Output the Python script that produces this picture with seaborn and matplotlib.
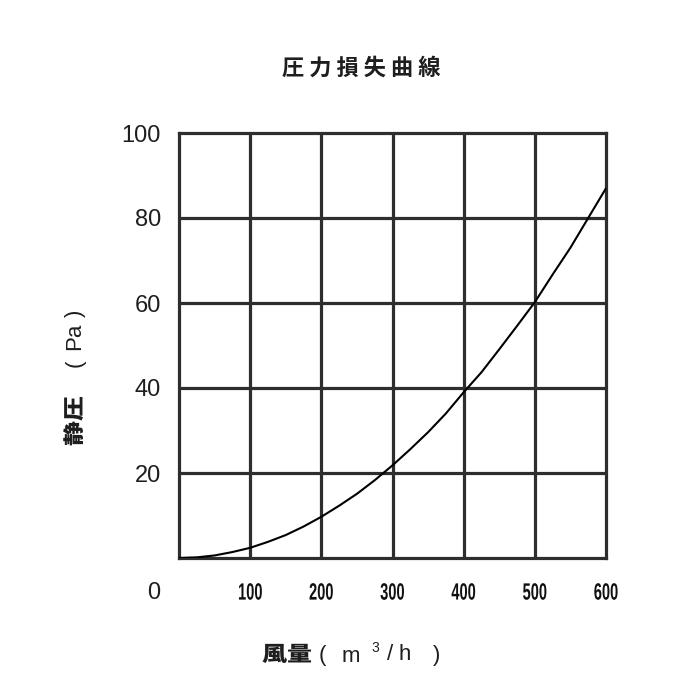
import matplotlib
matplotlib.use("Agg")
import matplotlib.pyplot as plt
from matplotlib.patheffects import AbstractPathEffect
from matplotlib.transforms import Affine2D
import seaborn as sns
import pandas as pd

# values
flow = [0, 25, 50, 75, 100, 125, 150, 175, 200, 225, 250, 275, 300,
        325, 350, 375, 400, 425, 450, 475, 500, 525, 550, 575, 600]
pressure = [0, 0.15, 0.6, 1.4, 2.4, 3.8, 5.4, 7.4, 9.7, 12.3, 15.1, 18.3, 21.8,
            25.6, 29.6, 34.0, 39.0, 43.7, 49.1, 54.6, 60.2, 66.7, 73.0, 80.0, 87.0]
x_ticks = [100, 200, 300, 400, 500, 600]
y_ticks = [20, 40, 60, 80, 100]

title = "圧 力 損 失 曲 線"
x_label_main = "風量"
y_label_main = "静圧"


class StretchX(AbstractPathEffect):
    """scale the glyphs horizontally around their own centre"""
    def __init__(self, sx):
        super().__init__()
        self.sx = sx

    def draw_path(self, renderer, gc, tpath, affine, rgbFace=None):
        ext = tpath.get_extents()
        cx = (ext.x0 + ext.x1) / 2
        st = Affine2D().translate(-cx, 0).scale(self.sx, 1).translate(cx, 0)
        renderer.draw_path(gc, tpath, st + affine, rgbFace)


def px(x, y):
    # pixel position (from top-left) -> figure fraction
    return x / 700, 1 - y / 700


sns.set_theme(style="white")
plt.rcParams["font.family"] = ["Noto Sans CJK JP", "DejaVu Sans"]

df = pd.DataFrame({"flow": flow, "pressure": pressure})

fig = plt.figure(figsize=(7, 7), dpi=100)
ax = fig.add_axes([179 / 700, 142 / 700, 427 / 700, 425 / 700])

grid_col = "#2e2e2e"
for v in x_ticks[:-1]:
    ax.axvline(v, color=grid_col, lw=2.3, zorder=1)
for v in y_ticks[:-1]:
    ax.axhline(v, color=grid_col, lw=2.3, zorder=1)

sns.lineplot(data=df, x="flow", y="pressure", ax=ax, color="black", lw=1.5, zorder=3)

ax.set_xlim(0, 600)
ax.set_ylim(0, 100)
for s in ax.spines.values():
    s.set_visible(True)
    s.set_color(grid_col)
    s.set_linewidth(2.3)

txt_col = "#1e1e1e"
ax.set_xticks(x_ticks)
ax.set_xticklabels([str(v) for v in x_ticks], family="Liberation Sans", fontsize=17,
                   color="#111111", fontweight="bold")
for lab in ax.get_xticklabels():
    lab.set_path_effects([StretchX(0.62)])
ax.set_yticks(y_ticks)
ax.set_yticklabels([str(v) for v in y_ticks], family="Liberation Sans", fontsize=17, color=txt_col)
ax.tick_params(axis="x", length=0, pad=17)
ax.tick_params(axis="y", length=0, pad=13)
ax.set_xlabel("")
ax.set_ylabel("")

# origin label sits below-left of the corner
fig.text(*px(154, 593), "0", family="Liberation Sans", fontsize=17, color=txt_col,
         ha="center", va="center")

fig.text(*px(361, 68), title, fontsize=16, fontweight="bold", color=txt_col,
         ha="center", va="center")

# x axis label, pieces spaced out as in the reference
fig.text(*px(287, 655), x_label_main, fontsize=15, fontweight="black", color=txt_col,
         ha="center", va="center", path_effects=[StretchX(1.2)])
for s, x, y, fs in [("(", 322, 655, 16), ("m", 351, 657, 16), ("3", 375, 648, 10),
                    ("/", 390, 655, 16), ("h", 405, 655, 16), (")", 437, 655, 16)]:
    fig.text(*px(x, y), s, family="Liberation Sans", fontsize=fs, color=txt_col,
             ha="center", va="center")

# y axis label
fig.text(*px(75, 421), y_label_main, fontsize=15, fontweight="black", color=txt_col,
         ha="center", va="center", rotation=90, path_effects=[StretchX(1.2)])
for s, y in [("(", 363), ("Pa", 336), (")", 313)]:
    fig.text(*px(75, y), s, family="Liberation Sans", fontsize=16, color=txt_col,
             ha="center", va="center", rotation=90)

fig.savefig("out.png", dpi=100, facecolor="white")
plt.close(fig)
